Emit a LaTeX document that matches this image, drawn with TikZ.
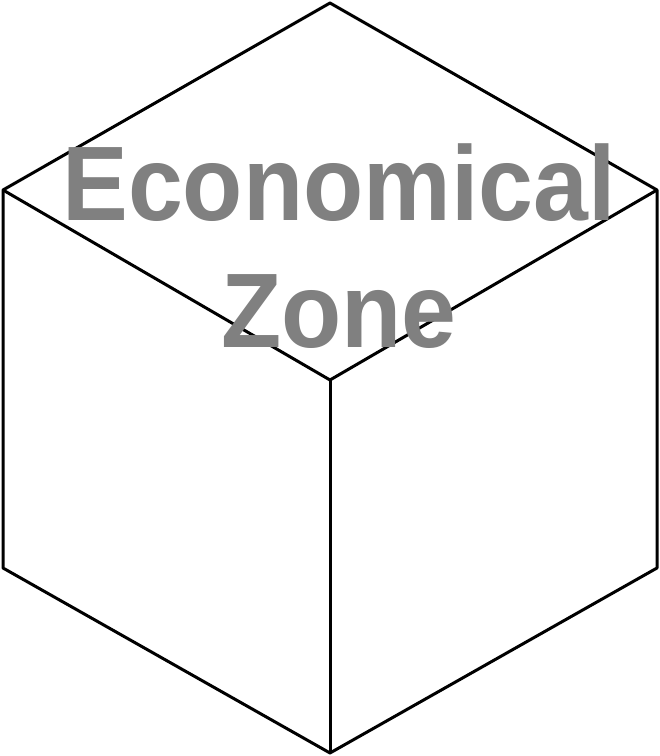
\documentclass[tikz,border=0pt]{standalone}
\usepackage{fontspec}
\setmainfont{Liberation Sans}
\newfontfamily\zonefont[FakeStretch=0.93]{Liberation Sans}
\usepackage{tikz}
\definecolor{zonegray}{HTML}{808080}
\tikzset{edge/.style={black,line width=3pt,line join=round}}

\begin{document}
\begin{tikzpicture}[x=1pt,y=1pt]
	%	\draw[help lines] (0,0) grid (660,756);
	\useasboundingbox (0,0) rectangle (660,756);

	\coordinate (top) at (330,753);
	\coordinate (ul) at (3,566);
	\coordinate (ur) at (657,566);
	\coordinate (mid) at (330,376);
	\coordinate (ll) at (3,188);
	\coordinate (lr) at (657,188);
	\coordinate (bot) at (330,3);

	\draw[edge] (top) -- (ur) -- (lr) -- (bot) -- (ll) -- (ul) -- cycle;
	\draw[edge] (ul) -- (mid) -- (ur);
	\draw[edge] (mid) -- (bot);

	\node[zonegray,font=\zonefont\fontsize{106}{127}\selectfont\bfseries,align=center]
		(label) at (339,510) {Economical\\Zone};
\end{tikzpicture}
\end{document}
